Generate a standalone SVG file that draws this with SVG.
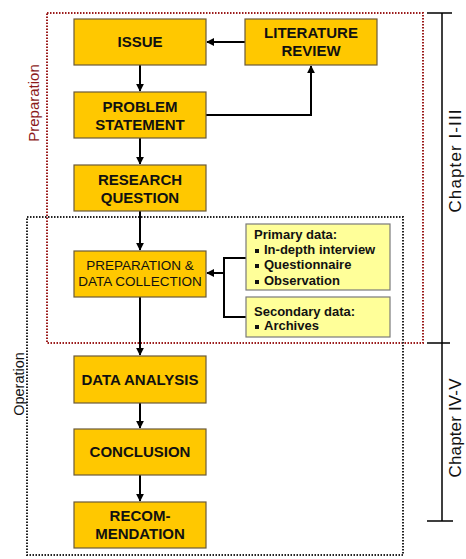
<svg xmlns="http://www.w3.org/2000/svg" width="466" height="559" viewBox="0 0 466 559">
<style>
.box{fill:#FFC800;stroke:#6b5a3a;stroke-width:1.2}
.note{fill:#FFFF99;stroke:#7a7a7a;stroke-width:1.2}
.t{font-family:"Liberation Sans",Arial,sans-serif;font-weight:bold;font-size:15px;fill:#111;text-anchor:middle}
.tr{font-family:"Liberation Sans",Arial,sans-serif;font-size:13.5px;fill:#111;text-anchor:middle}
.n{font-family:"Liberation Sans",Arial,sans-serif;font-weight:bold;font-size:13px;fill:#111}
.lab{font-family:"Liberation Sans",Arial,sans-serif;font-size:17px;fill:#111;text-anchor:middle}
.c{fill:none;stroke:#000;stroke-width:2}
</style>
<defs>
<marker id="ah" viewBox="0 0 10 10" refX="9" refY="5" markerWidth="4" markerHeight="4" orient="auto">
<path d="M0,0 L10,5 L0,10 z" fill="#000"/>
</marker>
</defs>
<rect x="0" y="0" width="466" height="559" fill="#fff"/>
<g id="frames">
<rect x="47" y="13" width="376" height="330" fill="none" stroke="#9b1c1c" stroke-width="2" stroke-dasharray="1.5,1.5"/>
<rect x="27" y="217" width="376" height="338" fill="none" stroke="#222" stroke-width="2" stroke-dasharray="1.5,1.5"/>
<text class="lab" transform="translate(39,103) rotate(-90)" style="font-size:15px;fill:#8b1a1a">Preparation</text>
<text class="lab" transform="translate(24,384) rotate(-90)" style="font-size:14.5px">Operation</text>
</g>
<g id="chapters">
<path d="M442,13 V521 M427,13 H452 M427,343 H450 M427,521 H453" fill="none" stroke="#000" stroke-width="1.5"/>
<text class="lab" transform="translate(461,161) rotate(-90)" textLength="103">Chapter I-III</text>
<text class="lab" transform="translate(461,428) rotate(-90)" textLength="99">Chapter IV-V</text>
</g>
<g id="connectors">
<line class="c" x1="140" y1="65" x2="140" y2="91" marker-end="url(#ah)"/>
<line class="c" x1="140" y1="138" x2="140" y2="164" marker-end="url(#ah)"/>
<line class="c" x1="140" y1="211" x2="140" y2="250" marker-end="url(#ah)"/>
<line class="c" x1="140" y1="297" x2="140" y2="355" marker-end="url(#ah)"/>
<line class="c" x1="140" y1="403" x2="140" y2="428" marker-end="url(#ah)"/>
<line class="c" x1="140" y1="475" x2="140" y2="501" marker-end="url(#ah)"/>
<line class="c" x1="245" y1="42" x2="207" y2="42" marker-end="url(#ah)"/>
<polyline class="c" points="206,115 311,115 311,66" marker-end="url(#ah)"/>
<polyline class="c" points="246,258 224,258 224,317 246,317"/>
<line class="c" x1="224" y1="273" x2="207" y2="273" marker-end="url(#ah)"/>
</g>
<g id="issue"><rect class="box" x="74" y="19" width="132" height="46"/><text class="t" x="140" y="47">ISSUE</text></g>
<g id="literature"><rect class="box" x="245" y="19" width="132" height="46"/><text class="t" x="311" y="38">LITERATURE</text><text class="t" x="311" y="56">REVIEW</text></g>
<g id="problem"><rect class="box" x="74" y="92" width="132" height="46"/><text class="t" x="140" y="112">PROBLEM</text><text class="t" x="140" y="130">STATEMENT</text></g>
<g id="question"><rect class="box" x="74" y="165" width="132" height="46"/><text class="t" x="140" y="185">RESEARCH</text><text class="t" x="140" y="203">QUESTION</text></g>
<g id="prep"><rect class="box" x="74" y="251" width="132" height="46"/><text class="tr" x="140" y="270">PREPARATION &amp;</text><text class="tr" x="140" y="286">DATA COLLECTION</text></g>
<g id="primary"><rect class="note" x="246" y="224" width="144" height="66"/>
<text class="n" x="254" y="239">Primary data:</text>
<rect x="255" y="249" width="4" height="4" fill="#111"/><text class="n" x="264" y="254">In-depth interview</text>
<rect x="255" y="264" width="4" height="4" fill="#111"/><text class="n" x="264" y="269">Questionnaire</text>
<rect x="255" y="280" width="4" height="4" fill="#111"/><text class="n" x="264" y="285">Observation</text></g>
<g id="secondary"><rect class="note" x="246" y="297" width="144" height="40"/>
<text class="n" x="254" y="316">Secondary data:</text>
<rect x="255" y="325" width="4" height="4" fill="#111"/><text class="n" x="264" y="330">Archives</text></g>
<g id="analysis"><rect class="box" x="74" y="356" width="132" height="47"/><text class="t" x="140" y="385">DATA ANALYSIS</text></g>
<g id="conclusion"><rect class="box" x="74" y="429" width="132" height="46"/><text class="t" x="140" y="457">CONCLUSION</text></g>
<g id="recom"><rect class="box" x="74" y="502" width="132" height="46"/><text class="t" x="140" y="521">RECOM-</text><text class="t" x="140" y="539">MENDATION</text></g>
</svg>
